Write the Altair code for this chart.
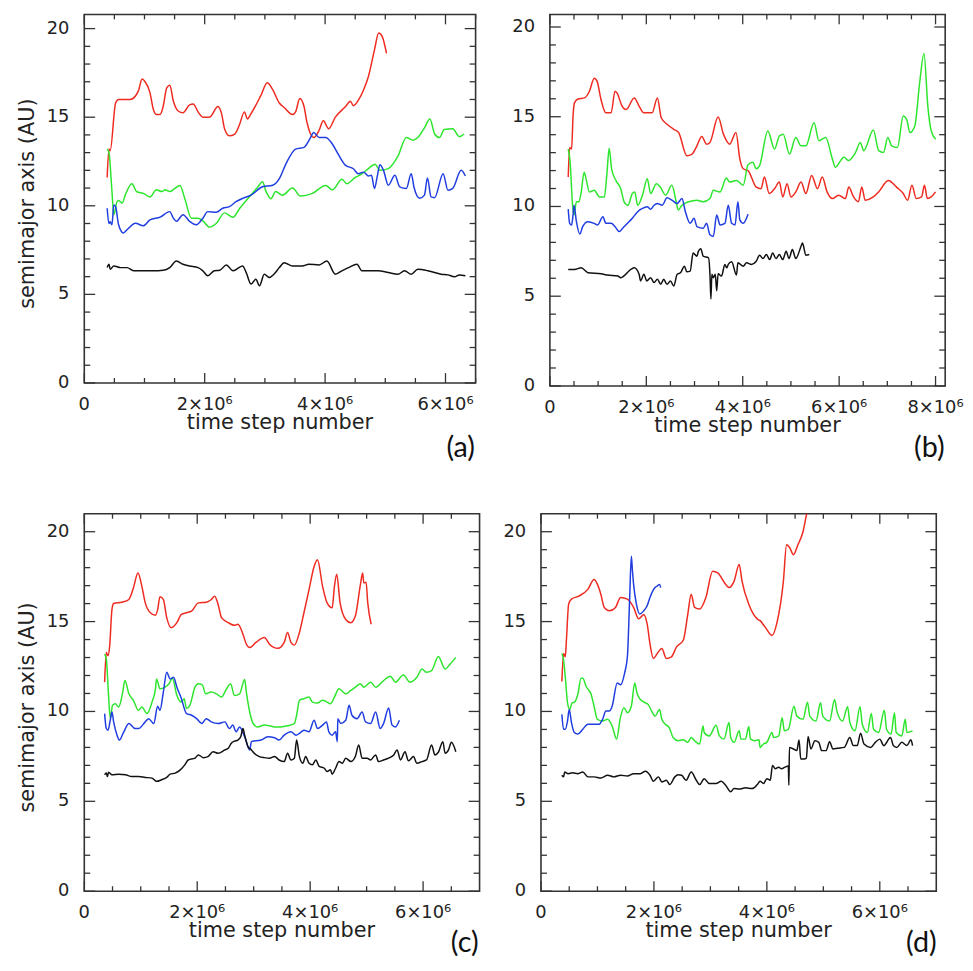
import altair as alt
import pandas as pd

# ---------------- data (time step in units of 10^6, semimajor axis in AU) ----------------
SERIES_NAMES = ["red", "green", "blue", "black"]
SERIES_COLORS = ["#ee2b20", "#2de52d", "#1f3de0", "#111111"]

# panel (a)
A_RED = [(0.38,11.6),(0.41,13.2),(0.43,13.1),(0.52,15.8),(0.57,16.0),(0.76,16.0),(0.85,16.2),(0.90,16.5),(0.96,17.15),(1.01,17.0),(1.09,16.4),(1.15,15.4),(1.20,15.15),(1.26,15.15),(1.31,15.6),(1.37,16.65),(1.42,16.8),(1.48,15.9),(1.56,15.35),(1.64,15.25),(1.75,15.7),(1.81,15.75),(1.89,15.3),(1.97,15.0),(2.08,15.0),(2.22,15.6),(2.28,15.2),(2.33,14.35),(2.41,13.95),(2.50,14.05),(2.58,14.6),(2.66,15.3),(2.71,14.9),(2.77,15.2),(2.93,16.2),(3.04,16.95),(3.13,16.55),(3.24,15.8),(3.32,15.55),(3.46,15.15),(3.51,15.3),(3.58,16.05),(3.65,15.6),(3.70,14.7),(3.81,13.85),(3.90,14.25),(3.97,14.8),(4.06,14.35),(4.17,15.0),(4.34,15.6),(4.42,15.9),(4.47,15.65),(4.56,16.0),(4.64,16.55),(4.72,17.3),(4.82,18.8),(4.89,19.75),(4.95,19.55),(5.02,18.6)]
A_GREEN = [(0.38,13.2),(0.41,13.0),(0.46,10.8),(0.49,9.5),(0.54,10.2),(0.57,10.3),(0.63,10.15),(0.68,10.6),(0.79,11.25),(0.87,10.8),(0.98,10.7),(1.09,10.5),(1.20,10.9),(1.29,10.8),(1.34,10.9),(1.42,10.8),(1.51,11.0),(1.59,11.15),(1.67,10.4),(1.78,9.3),(1.89,9.3),(1.97,9.15),(2.08,8.8),(2.19,9.0),(2.33,9.6),(2.47,9.35),(2.58,9.85),(2.74,10.5),(2.88,11.05),(2.96,11.35),(3.02,10.8),(3.10,10.4),(3.18,10.8),(3.29,10.6),(3.46,11.0),(3.59,10.55),(3.79,10.7),(4.01,11.15),(4.12,10.9),(4.28,11.5),(4.36,11.25),(4.50,11.6),(4.61,11.8),(4.72,12.1),(4.83,12.35),(4.91,12.0),(5.05,12.1),(5.21,12.8),(5.35,13.85),(5.46,13.7),(5.54,13.85),(5.65,14.4),(5.74,14.9),(5.82,14.05),(5.90,13.85),(5.98,14.3),(6.12,14.35),(6.23,13.9),(6.31,14.05)]
A_BLUE = [(0.38,9.86),(0.41,9.0),(0.43,9.1),(0.46,8.93),(0.49,10.05),(0.52,9.95),(0.57,8.93),(0.65,8.47),(0.71,8.65),(0.85,9.02),(0.98,8.87),(1.09,9.2),(1.26,9.36),(1.42,9.67),(1.48,9.3),(1.53,9.12),(1.64,9.5),(1.75,9.12),(1.86,8.93),(1.97,9.3),(2.05,9.67),(2.19,9.63),(2.30,9.86),(2.41,9.95),(2.52,10.23),(2.63,10.42),(2.77,10.6),(2.96,11.07),(3.13,11.16),(3.24,11.53),(3.35,12.37),(3.51,13.2),(3.65,13.3),(3.76,13.86),(3.81,14.14),(3.90,13.86),(4.01,13.86),(4.12,13.49),(4.23,12.84),(4.34,12.28),(4.47,12.09),(4.55,11.81),(4.64,11.9),(4.72,11.68),(4.77,11.72),(4.82,10.98),(4.87,11.72),(4.91,12.32),(4.97,12.0),(5.05,11.16),(5.16,11.72),(5.24,11.07),(5.35,10.98),(5.43,11.81),(5.48,11.0),(5.57,10.42),(5.65,10.6),(5.70,11.57),(5.76,10.5),(5.82,10.46),(5.96,11.81),(6.04,10.88),(6.12,10.98),(6.26,12.0),(6.33,11.68)]
A_BLACK = [(0.38,6.51),(0.41,6.70),(0.43,6.42),(0.49,6.60),(0.60,6.51),(0.71,6.51),(0.82,6.33),(0.98,6.33),(1.15,6.33),(1.31,6.36),(1.42,6.51),(1.53,6.88),(1.64,6.70),(1.75,6.60),(1.89,6.51),(1.97,6.33),(2.05,6.05),(2.16,6.33),(2.25,6.36),(2.36,6.66),(2.47,6.33),(2.63,6.60),(2.69,6.23),(2.77,5.58),(2.85,5.86),(2.91,5.49),(2.99,6.14),(3.07,5.95),(3.15,6.14),(3.24,6.51),(3.32,6.79),(3.46,6.60),(3.62,6.60),(3.73,6.70),(3.90,6.66),(4.03,6.88),(4.17,6.14),(4.28,6.33),(4.39,6.51),(4.53,6.70),(4.61,6.33),(4.72,6.33),(4.88,6.33),(5.05,6.23),(5.21,6.14),(5.32,6.33),(5.43,6.14),(5.54,6.42),(5.71,6.33),(5.82,6.23),(5.93,6.14),(6.04,6.10),(6.15,5.99),(6.23,6.10),(6.33,6.05)]

# panel (b)
B_RED_T = [0.38,0.41,0.45,0.48,0.51,0.58,0.72,0.82,0.92,0.98,1.06,1.16,1.27,1.35,1.40,1.49,1.58,1.75,1.85,1.95,2.12,2.23,2.31,2.43,2.57,2.67,2.84,2.95,3.05,3.15,3.25,3.32,3.49,3.60,3.73,3.86,3.94,4.01,4.11,4.28,4.38,4.45,4.55,4.66,4.76,4.83,4.92,5.00,5.10,5.21,5.31,5.43,5.55,5.65,5.75,5.86,5.99,6.13,6.20,6.30,6.40,6.47,6.54,6.71,6.82,7.02,7.19,7.33,7.42,7.51,7.60,7.71,7.77,7.83,7.91,8.00]
B_RED_A = [11.64,13.29,13.2,15.04,15.77,15.99,16.05,16.42,17.15,16.97,15.96,15.22,15.22,16.42,16.29,15.63,15.4,16.05,15.59,15.22,15.22,16.05,14.94,14.58,14.3,14.12,12.83,12.92,13.38,13.9,13.47,13.57,14.98,14.03,13.47,14.12,12.65,12.1,12.0,11.08,10.99,11.64,10.72,10.99,11.36,10.53,11.27,10.53,10.81,11.36,10.72,11.73,10.99,11.64,10.81,10.44,10.63,10.44,11.08,10.53,10.26,11.08,10.35,10.53,10.81,11.45,11.08,10.72,10.35,11.18,10.44,10.53,11.18,10.44,10.53,10.81]
B_GREEN_T = [0.38,0.42,0.47,0.50,0.55,0.60,0.65,0.71,0.75,0.82,0.92,1.03,1.13,1.18,1.23,1.28,1.37,1.47,1.54,1.62,1.71,1.76,1.82,1.92,2.02,2.09,2.21,2.29,2.40,2.53,2.62,2.66,2.74,2.88,3.05,3.18,3.32,3.39,3.53,3.66,3.73,3.87,4.01,4.11,4.21,4.28,4.35,4.52,4.66,4.76,4.84,4.97,5.10,5.21,5.31,5.48,5.58,5.72,5.86,5.92,6.10,6.20,6.34,6.44,6.51,6.71,6.82,6.92,7.01,7.09,7.21,7.33,7.40,7.47,7.57,7.67,7.76,7.84,7.91,8.00]
B_GREEN_A = [13.20,12.46,10.07,9.52,10.26,10.26,10.81,11.91,11.54,10.81,10.90,10.53,10.53,11.73,13.24,12.10,11.45,10.99,10.26,10.07,10.72,10.81,10.07,10.63,11.54,10.72,11.27,11.08,10.63,11.18,10.26,9.80,10.07,10.26,10.35,10.26,10.44,10.90,10.81,11.58,11.36,11.45,11.18,12.32,12.46,12.10,12.28,14.21,13.20,13.93,14.03,12.92,13.84,13.38,13.38,14.67,13.66,13.84,12.65,12.19,12.74,12.56,13.01,13.57,13.11,14.26,13.11,13.01,13.84,13.38,13.29,15.04,14.85,14.12,14.49,16.88,18.53,15.59,14.21,13.75]
B_BLUE_T = [0.38,0.41,0.45,0.48,0.50,0.55,0.62,0.68,0.79,0.92,0.99,1.10,1.16,1.27,1.35,1.44,1.51,1.61,1.71,1.82,1.92,2.02,2.09,2.16,2.23,2.33,2.43,2.53,2.64,2.74,2.81,2.91,2.99,3.05,3.18,3.25,3.32,3.39,3.46,3.53,3.63,3.70,3.77,3.84,3.90,3.94,4.01,4.11]
B_BLUE_A = [9.85,9.06,8.97,9.52,10.07,9.15,8.46,8.88,9.15,9.06,8.97,9.43,9.06,9.06,8.88,8.60,8.79,9.06,9.34,9.71,9.89,9.98,9.85,10.07,10.17,10.07,10.48,10.35,10.17,10.44,9.71,9.06,9.34,8.88,8.79,9.06,8.42,8.33,9.52,8.97,9.06,10.07,9.06,8.97,10.26,9.25,9.06,9.56]
B_BLACK_T = [0.38,0.51,0.65,0.79,1.06,1.20,1.41,1.47,1.68,1.75,1.85,1.88,1.95,2.01,2.09,2.16,2.23,2.30,2.36,2.43,2.50,2.57,2.64,2.71,2.79,2.84,2.91,2.97,3.01,3.05,3.08,3.13,3.18,3.29,3.32,3.34,3.36,3.39,3.43,3.46,3.49,3.56,3.63,3.67,3.70,3.77,3.87,3.90,4.01,4.08,4.18,4.28,4.35,4.42,4.49,4.56,4.62,4.69,4.76,4.83,4.90,4.96,5.03,5.10,5.21,5.24,5.31,5.38]
B_BLACK_A = [6.49,6.49,6.58,6.31,6.25,6.18,6.12,6.03,6.49,6.58,6.22,5.85,6.22,5.85,6.03,5.76,5.94,5.66,5.94,5.66,5.85,5.57,6.22,6.31,6.67,6.36,6.40,7.41,7.32,7.23,7.50,7.65,7.23,7.14,6.22,4.84,6.22,6.03,6.22,5.30,6.25,6.12,6.77,6.58,6.77,6.92,6.18,6.86,6.67,6.86,6.77,6.95,7.28,7.10,7.32,7.04,7.41,7.10,7.32,7.04,7.50,7.10,7.60,7.10,7.78,7.96,7.28,7.32]

# panel (c)
C_RED_T = [0.36,0.39,0.42,0.45,0.49,0.52,0.67,0.79,0.87,0.95,1.02,1.08,1.17,1.26,1.30,1.34,1.40,1.46,1.54,1.64,1.72,1.81,1.90,2.02,2.16,2.25,2.31,2.37,2.43,2.55,2.66,2.72,2.81,2.87,2.93,3.04,3.19,3.28,3.43,3.54,3.60,3.66,3.72,3.81,3.89,3.98,4.07,4.13,4.22,4.30,4.39,4.43,4.47,4.53,4.63,4.72,4.80,4.89,4.93,4.95,4.99,5.02,5.08]
C_RED_A = [11.63,13.28,13.10,13.65,15.68,16.01,16.08,16.23,16.87,17.70,16.96,16.04,15.49,15.35,15.68,16.38,16.23,15.22,14.66,14.94,15.40,15.49,15.58,16.04,16.08,16.23,16.41,15.95,15.22,14.94,14.79,14.85,14.30,13.74,13.56,13.84,14.11,13.74,13.51,13.84,14.39,13.84,13.69,14.39,15.49,16.78,18.07,18.44,16.96,16.04,15.77,16.96,17.64,16.04,15.12,14.94,15.31,17.06,17.70,17.15,17.19,16.04,14.85]
C_GREEN = [(0.36,13.19),(0.39,12.92),(0.43,10.89),(0.46,9.60),(0.50,10.34),(0.55,10.43),(0.61,10.25),(0.67,10.89),(0.72,11.72),(0.79,10.98),(0.87,10.62),(0.96,10.06),(1.02,10.25),(1.11,9.88),(1.20,10.52),(1.26,11.26),(1.28,11.81),(1.34,11.26),(1.43,11.35),(1.50,11.54),(1.56,11.85),(1.64,10.89),(1.72,10.52),(1.77,10.71),(1.81,10.16),(1.87,10.34),(1.96,11.35),(2.02,11.54),(2.09,11.48),(2.15,10.98),(2.25,11.08),(2.34,10.98),(2.43,10.80),(2.52,11.26),(2.59,11.54),(2.66,10.89),(2.75,10.98),(2.84,11.78),(2.87,11.08),(2.93,9.97),(2.99,9.33),(3.07,9.14),(3.19,9.24),(3.28,9.20),(3.37,9.14),(3.48,9.14),(3.60,9.20),(3.72,9.33),(3.76,9.79),(3.81,10.62),(3.89,10.71),(3.98,10.80),(4.04,10.52),(4.13,10.47),(4.22,10.62),(4.30,10.52),(4.36,10.43),(4.43,10.80),(4.51,11.26),(4.63,10.98),(4.72,11.17),(4.80,11.35),(4.89,11.54),(4.95,11.35),(5.07,11.63),(5.16,11.35),(5.30,11.72),(5.42,11.96),(5.51,11.63),(5.65,12.03),(5.77,11.63),(5.89,11.90),(5.98,12.36),(6.06,12.18),(6.15,12.27),(6.27,13.06),(6.39,12.36),(6.48,12.64),(6.58,13.01)]
C_BLUE = [(0.36,9.88),(0.39,9.05),(0.42,8.96),(0.46,9.51),(0.49,9.97),(0.52,9.42),(0.58,8.68),(0.62,8.41),(0.70,8.87),(0.79,9.33),(0.90,9.05),(0.96,9.05),(1.08,9.42),(1.14,9.60),(1.23,9.33),(1.30,10.29),(1.34,10.06),(1.40,11.08),(1.46,12.18),(1.52,11.81),(1.58,11.90),(1.64,11.35),(1.72,10.71),(1.81,9.88),(1.90,9.79),(1.99,9.60),(2.08,9.33),(2.16,9.60),(2.25,9.42),(2.37,9.33),(2.49,9.42),(2.57,9.05),(2.63,9.24),(2.69,8.87),(2.75,9.14),(2.84,8.59),(2.93,7.86),(2.96,8.32),(3.13,8.41),(3.25,8.59),(3.37,8.54),(3.45,8.41),(3.54,8.68),(3.66,8.87),(3.75,8.68),(3.81,8.78),(3.89,8.96),(3.98,8.87),(4.07,9.51),(4.13,9.05),(4.22,9.24),(4.29,9.42),(4.33,8.87),(4.39,8.68),(4.45,8.87),(4.48,8.32),(4.49,9.60),(4.54,9.33),(4.63,9.51),(4.69,10.34),(4.74,9.79),(4.83,9.60),(4.92,9.97),(4.98,9.42),(5.07,9.33),(5.16,9.97),(5.24,9.05),(5.30,9.33),(5.39,10.19),(5.45,9.24),(5.51,9.14),(5.58,9.51)]
C_BLACK = [(0.36,6.48),(0.39,6.57),(0.41,6.38),(0.43,6.62),(0.49,6.48),(0.61,6.51),(0.73,6.48),(0.84,6.38),(0.96,6.38),(1.08,6.33),(1.20,6.29),(1.28,6.11),(1.37,6.20),(1.46,6.33),(1.52,6.51),(1.61,6.57),(1.70,6.75),(1.78,7.03),(1.84,7.30),(1.96,7.40),(2.02,7.58),(2.11,7.43),(2.19,7.49),(2.28,7.76),(2.37,7.67),(2.49,7.86),(2.55,7.95),(2.60,8.22),(2.66,8.35),(2.72,8.41),(2.77,8.59),(2.81,9.05),(2.84,8.68),(2.90,8.04),(2.96,7.86),(3.01,7.67),(3.10,7.49),(3.19,7.43),(3.28,7.40),(3.37,7.49),(3.45,7.30),(3.54,7.21),(3.60,7.67),(3.66,7.30),(3.72,7.40),(3.76,8.41),(3.81,7.49),(3.87,7.12),(3.92,7.49),(3.98,7.12),(4.04,7.03),(4.10,7.30),(4.16,6.94),(4.25,6.84),(4.30,6.66),(4.36,6.75),(4.39,6.51),(4.45,6.84),(4.51,7.21),(4.57,7.12),(4.63,7.40),(4.72,7.21),(4.80,7.49),(4.86,8.13),(4.92,7.40),(5.01,7.40),(5.07,7.30),(5.16,7.58),(5.21,7.21),(5.30,7.30),(5.39,7.40),(5.48,7.58),(5.54,7.86),(5.60,7.30),(5.68,7.76),(5.74,7.25),(5.83,7.49),(5.89,7.12),(5.98,7.21),(6.06,7.30),(6.15,8.13),(6.21,7.58),(6.27,7.73),(6.35,8.32),(6.39,7.67),(6.45,7.86),(6.50,8.28),(6.58,7.76)]

# panel (d)
D_RED = [(0.37,11.67),(0.40,13.22),(0.43,13.04),(0.45,13.96),(0.49,15.97),(0.54,16.25),(0.68,16.43),(0.83,16.79),(0.94,17.34),(1.00,17.07),(1.06,16.52),(1.12,15.79),(1.21,15.60),(1.32,15.79),(1.41,16.34),(1.53,16.25),(1.64,15.79),(1.73,15.15),(1.82,15.38),(1.88,14.87),(1.93,13.77),(1.99,12.95),(2.08,13.32),(2.14,13.50),(2.22,12.95),(2.31,13.04),(2.40,13.59),(2.52,13.96),(2.60,15.42),(2.66,16.52),(2.72,15.79),(2.81,15.70),(2.92,16.34),(3.04,17.80),(3.13,17.71),(3.27,17.07),(3.33,16.89),(3.42,17.25),(3.51,18.17),(3.56,17.25),(3.68,15.97),(3.83,15.15),(3.88,15.05),(3.97,14.69),(4.09,14.23),(4.18,14.96),(4.29,17.16),(4.35,19.27),(4.41,19.08),(4.47,18.72),(4.55,19.27),(4.64,20.0),(4.70,20.92),(4.72,21.19)]
D_GREEN = [(0.37,13.22),(0.40,12.86),(0.43,11.94),(0.47,10.48),(0.51,10.11),(0.55,10.48),(0.59,10.51),(0.65,10.93),(0.71,11.85),(0.74,11.85),(0.80,11.39),(0.89,10.93),(0.94,10.29),(1.00,9.56),(1.09,9.47),(1.18,9.56),(1.26,9.19),(1.34,8.46),(1.40,9.56),(1.47,10.20),(1.53,9.93),(1.60,10.29),(1.66,11.58),(1.70,11.03),(1.76,10.66),(1.85,10.48),(1.90,10.38),(1.96,10.02),(2.02,9.74),(2.10,10.11),(2.14,9.56),(2.20,9.29),(2.27,9.10),(2.34,8.55),(2.43,8.37),(2.52,8.42),(2.60,8.28),(2.66,8.55),(2.72,8.37),(2.81,8.19),(2.87,9.19),(2.89,8.83),(2.98,8.64),(3.10,9.23),(3.16,8.64),(3.24,8.46),(3.33,9.38),(3.36,8.55),(3.42,8.28),(3.51,8.92),(3.54,8.46),(3.62,8.46),(3.68,9.16),(3.71,8.46),(3.79,8.37),(3.86,8.42),(3.88,8.00),(3.94,8.19),(4.00,8.28),(4.09,8.83),(4.12,8.55),(4.21,8.64),(4.27,9.65),(4.31,8.92),(4.38,9.01),(4.48,10.29),(4.53,9.74),(4.64,9.56),(4.72,10.51),(4.76,9.74),(4.87,9.47),(4.95,10.48),(4.99,9.74),(5.11,9.47),(5.20,10.66),(5.24,10.02),(5.34,9.47),(5.43,10.26),(5.47,9.38),(5.56,8.92),(5.65,10.26),(5.69,9.29),(5.78,8.83),(5.85,9.89),(5.89,9.01),(5.98,8.83),(6.08,10.07),(6.12,9.01),(6.20,8.74),(6.26,9.93),(6.29,8.83),(6.39,8.64),(6.45,9.56),(6.48,8.83),(6.58,8.92)]
D_BLUE = [(0.37,9.84),(0.40,9.01),(0.43,9.01),(0.47,9.47),(0.50,10.11),(0.54,9.38),(0.59,8.83),(0.65,8.74),(0.74,9.01),(0.83,9.29),(0.94,9.29),(1.03,9.29),(1.09,9.56),(1.15,10.02),(1.21,10.02),(1.26,10.29),(1.35,11.58),(1.41,11.48),(1.48,12.12),(1.53,13.04),(1.57,16.25),(1.60,18.63),(1.62,17.80),(1.64,17.07),(1.69,15.97),(1.75,15.42),(1.82,15.60),(1.88,15.88),(1.93,16.34),(2.02,16.89),(2.06,16.98),(2.10,17.07),(2.12,16.89)]
D_BLACK = [(0.37,6.45),(0.40,6.36),(0.42,6.63),(0.48,6.54),(0.56,6.59),(0.65,6.54),(0.74,6.63),(0.83,6.36),(0.94,6.36),(1.06,6.30),(1.18,6.45),(1.29,6.36),(1.41,6.45),(1.53,6.41),(1.64,6.54),(1.76,6.54),(1.85,6.67),(1.93,6.45),(1.99,6.12),(2.08,6.36),(2.14,6.08),(2.22,6.17),(2.28,5.93),(2.37,6.36),(2.43,6.48),(2.49,6.45),(2.57,6.17),(2.66,6.63),(2.75,6.17),(2.81,5.93),(2.89,6.26),(2.98,5.99),(3.10,5.99),(3.19,6.12),(3.27,5.90),(3.36,5.53),(3.42,5.71),(3.51,5.68),(3.62,5.75),(3.74,5.71),(3.83,5.93),(3.88,6.12),(3.94,5.99),(4.00,6.26),(4.06,6.17),(4.10,7.00),(4.15,6.81),(4.21,6.90),(4.26,6.81),(4.32,6.90),(4.38,6.96),(4.39,5.90),(4.40,8.00),(4.47,7.91),(4.53,7.82),(4.57,8.41),(4.60,7.36),(4.66,7.36),(4.70,7.40),(4.73,8.61),(4.78,7.91),(4.85,8.37),(4.92,8.28),(4.97,7.82),(5.05,7.82),(5.11,8.32),(5.17,7.91),(5.25,7.95),(5.37,8.00),(5.47,8.55),(5.53,8.10),(5.60,8.10),(5.66,8.79),(5.72,8.19),(5.84,8.00),(5.92,8.28),(6.00,8.46),(6.07,8.10),(6.19,8.55),(6.24,8.10),(6.30,8.00),(6.39,8.28),(6.48,8.10),(6.55,8.42),(6.58,8.10)]

# tick values
X_MAJOR_A = [0, 2, 4, 6]
X_MINOR_A = [0.5, 1, 1.5, 2.5, 3, 3.5, 4.5, 5, 5.5, 6.5]
X_MAJOR_B = [0, 2, 4, 6, 8]
X_MINOR_B = [0.5, 1, 1.5, 2.5, 3, 3.5, 4.5, 5, 5.5, 6.5, 7, 7.5]
X_MAJOR_CD = [0, 2, 4, 6]
X_MINOR_CD = [0.5, 1, 1.5, 2.5, 3, 3.5, 4.5, 5, 5.5, 6.5]
Y_MAJOR = [0, 5, 10, 15, 20]
Y_MINOR = [1, 2, 3, 4, 6, 7, 8, 9, 11, 12, 13, 14, 16, 17, 18, 19]

PANEL_LABELS = ["(a)", "(b)", "(c)", "(d)"]
X_TITLE = "time step number"
Y_TITLE = "semimajor axis (AU)"

FONT = "DejaVu Sans"
INK = "#222222"
FRAME = "#333333"


def pairs(ts, vals):
    return list(zip(ts, vals, strict=True))


def x_label(v):
    return "0" if v == 0 else f"{v:g}\u00d710\u2076"


def panel(series, xmax, ymax, w, h, x_major, x_minor, show_ytitle, ytitle_x,
          label, label_xy, box):
    rows = []
    for name, pts in zip(SERIES_NAMES, series):
        for i, (t, a) in enumerate(pts):
            rows.append({"t": t, "a": a, "s": name, "i": i})
    df = pd.DataFrame(rows)

    xs = alt.Scale(domain=[0, xmax], nice=False, zero=False)
    ys = alt.Scale(domain=[0, ymax], nice=False, zero=False)

    layers = [alt.Chart(df).mark_line(strokeWidth=1.5, clip=True, interpolate="monotone").encode(
        x=alt.X("t:Q", scale=xs, axis=None),
        y=alt.Y("a:Q", scale=ys, axis=None),
        color=alt.Color("s:N", scale=alt.Scale(domain=SERIES_NAMES, range=SERIES_COLORS), legend=None),
        order=alt.Order("i:Q"),
    )]

    # inward ticks on all four sides
    for vals, L in ((x_major, 10), (x_minor, 5)):
        d = pd.DataFrame({"t": vals})
        for y0, y1 in ((h, h - L), (0, L)):
            layers.append(alt.Chart(d).mark_rule(color=FRAME, strokeWidth=1.3).encode(
                x=alt.X("t:Q", scale=xs, axis=None), y=alt.value(y0), y2=alt.value(y1)))
    for vals, L in ((Y_MAJOR, 11), (Y_MINOR, 6)):
        d = pd.DataFrame({"a": vals})
        for x0, x1 in ((0, L), (w, w - L)):
            layers.append(alt.Chart(d).mark_rule(color=FRAME, strokeWidth=1.3).encode(
                y=alt.Y("a:Q", scale=ys, axis=None), x=alt.value(x0), x2=alt.value(x1)))

    # tick labels (text placed through the same scales)
    xl = pd.DataFrame({"t": x_major, "lab": [x_label(v) for v in x_major]})
    layers.append(alt.Chart(xl).mark_text(
        font=FONT, fontSize=18, color=INK, align="center", baseline="alphabetic"
    ).encode(x=alt.X("t:Q", scale=xs, axis=None), y=alt.value(h + 27), text="lab:N"))

    yl = pd.DataFrame({"a": Y_MAJOR, "lab": [str(v) for v in Y_MAJOR]})
    layers.append(alt.Chart(yl).mark_text(
        font=FONT, fontSize=18, color=INK, align="right", baseline="middle"
    ).encode(y=alt.Y("a:Q", scale=ys, axis=None), x=alt.value(-15), text="lab:N"))

    # axis titles
    layers.append(alt.Chart(pd.DataFrame({"ttl": [X_TITLE]})).mark_text(
        font=FONT, fontSize=21, color=INK, align="center", baseline="top"
    ).encode(x=alt.value(w / 2), y=alt.value(h + 29), text="ttl:N"))
    if show_ytitle:
        layers.append(alt.Chart(pd.DataFrame({"ttl": [Y_TITLE]})).mark_text(
            font=FONT, fontSize=21, color=INK, align="center", baseline="middle", angle=270
        ).encode(x=alt.value(ytitle_x), y=alt.value(h / 2 + 5), text="ttl:N"))

    # panel label
    layers.append(alt.Chart(pd.DataFrame({"lab": [label]})).mark_text(
        font="Lato", fontSize=29, align="center", baseline="middle", color="#111111"
    ).encode(x=alt.value(label_xy[0]), y=alt.value(label_xy[1]), text="lab:N"))

    # invisible element fixing the panel's layout box
    layers.append(alt.Chart(pd.DataFrame({"d": [0]})).mark_rule(opacity=0).encode(
        x=alt.value(box[0]), y=alt.value(box[1]), x2=alt.value(box[2]), y2=alt.value(box[3])))

    return alt.layer(*layers).properties(width=w, height=h)


pa = panel([A_RED, A_GREEN, A_BLUE, A_BLACK], 6.5, 20.8, 395, 372,
           X_MAJOR_A, X_MINOR_A, True, -57, PANEL_LABELS[0], (380, 438), (-72, 0, 401, 470))
pb = panel([pairs(B_RED_T, B_RED_A), pairs(B_GREEN_T, B_GREEN_A),
            pairs(B_BLUE_T, B_BLUE_A), pairs(B_BLACK_T, B_BLACK_A)], 8.2, 20.7, 399, 375,
           X_MAJOR_B, X_MINOR_B, False, 0, PANEL_LABELS[1], (383, 438), (-45, 0, 399, 470))
pc = panel([pairs(C_RED_T, C_RED_A), C_GREEN, C_BLUE, C_BLACK], 7.0, 21, 399, 381,
           X_MAJOR_CD, X_MINOR_CD, True, -57, PANEL_LABELS[2], (384, 433), (-76, -2, 405, 381))
pd_ = panel([D_RED, D_GREEN, D_BLUE, D_BLACK], 7.0, 21, 399, 381,
            X_MAJOR_CD, X_MINOR_CD, False, 0, PANEL_LABELS[3], (384, 433), (-45, -2, 399, 381))

row1 = alt.hconcat(pa, pb, spacing=22)
row2 = alt.hconcat(pc, pd_, spacing=9)

chart = alt.vconcat(row1, row2, spacing=30).properties(padding=0).configure_view(
    stroke=FRAME, strokeWidth=1.6)

chart.save("out.html", embed_options={"renderer": "svg", "actions": False})
